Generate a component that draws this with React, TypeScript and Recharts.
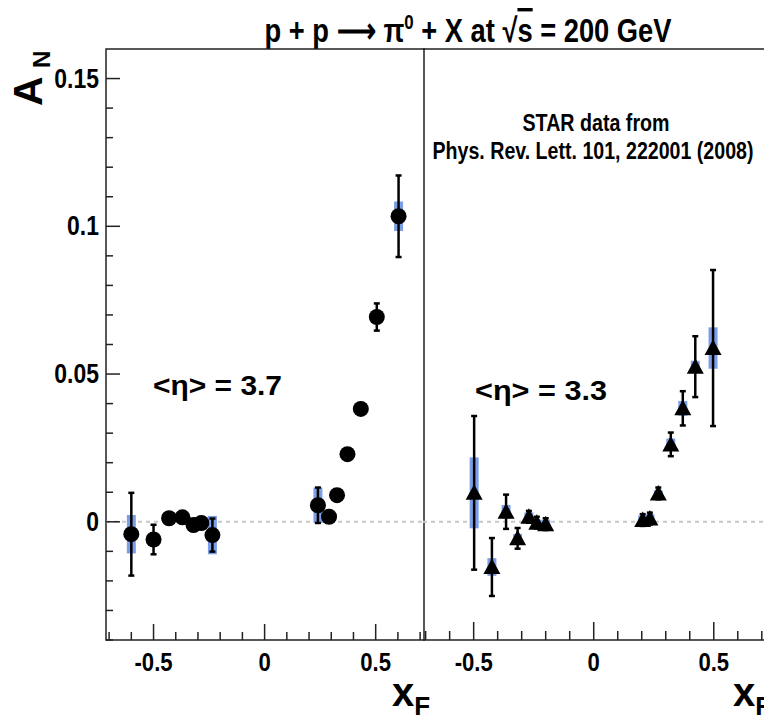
import React from "react";
import {
  ScatterChart,
  Scatter,
  XAxis,
  YAxis,
  ErrorBar,
  ReferenceLine,
  ReferenceArea,
} from "recharts";

// <eta> = 3.7 (circles)
const xF37 = [-0.6, -0.5, -0.43, -0.37, -0.32, -0.285, -0.235, 0.24, 0.29, 0.326, 0.373, 0.433, 0.505, 0.603];
const an37 = [-0.0042, -0.006, 0.0012, 0.0015, -0.0011, -0.0004, -0.0045, 0.0056, 0.0017, 0.009, 0.0229, 0.0382, 0.0693, 0.1034];
const stat37 = [0.014, 0.005, 0.002, 0.002, 0.002, 0.002, 0.0056, 0.006, 0.002, 0.002, 0.002, 0.002, 0.0046, 0.0138];
const sys37 = [0.0065, 0, 0, 0, 0, 0, 0.0065, 0.006, 0, 0, 0, 0, 0.002, 0.005];

// <eta> = 3.3 (triangles)
const xF33 = [-0.498, -0.424, -0.365, -0.317, -0.27, -0.237, -0.2, 0.204, 0.234, 0.269, 0.321, 0.371, 0.423, 0.497];
const an33 = [0.0098, -0.0153, 0.0034, -0.0056, 0.0017, -0.0003, -0.0008, 0.0006, 0.0011, 0.0096, 0.0262, 0.0384, 0.0525, 0.0588];
const stat33 = [0.026, 0.0098, 0.0058, 0.0035, 0.002, 0.002, 0.002, 0.002, 0.002, 0.002, 0.004, 0.0058, 0.0103, 0.0264];
const sys33 = [0.012, 0.003, 0.0023, 0.0015, 0.0015, 0.001, 0.0015, 0.0015, 0.0015, 0.001, 0.002, 0.0025, 0.002, 0.007];

const xTicks = [-0.7, -0.6, -0.5, -0.4, -0.3, -0.2, -0.1, 0, 0.1, 0.2, 0.3, 0.4, 0.5, 0.6, 0.7];
const xLabelTicks = [-0.5, 0, 0.5];
const yTicks = [-0.04, -0.03, -0.02, -0.01, 0, 0.01, 0.02, 0.03, 0.04, 0.05, 0.06, 0.07, 0.08, 0.09, 0.1, 0.11, 0.12, 0.13, 0.14, 0.15];
const yLabelTicks = [0, 0.05, 0.1, 0.15];

const toRows = (xs: number[], ys: number[], st: number[], sy: number[]) =>
  xs.map((x, i) => ({ x, y: ys[i], stat: st[i], sys: sy[i] }));

const rows37 = toRows(xF37, an37, stat37, sys37);
const rows33 = toRows(xF33, an33, stat33, sys33);

const SANS = "'Liberation Sans', Arial, sans-serif";
const BOX = "#7b9ee6";
const FRAME = "#222";
const Y_DOMAIN = [-0.04, 0.16];

const isIn = (list: number[], v: number) => list.some((t) => Math.abs(t - v) < 1e-6);
const fmt = (v: number) => (v === 0 ? "0" : String(v));

// bold helvetica squeezed sideways, like the ROOT output
function NText({ x, y, size, anchor = "start", sx = 0.85, children }: any) {
  return (
    <text
      transform={`translate(${x},${y}) scale(${sx},1)`}
      textAnchor={anchor}
      fontFamily={SANS}
      fontWeight="bold"
      fontSize={size}
      fill="#000"
    >
      {children}
    </text>
  );
}

function XTick(props: any) {
  const { x, y, payload, major, minor } = props;
  const big = isIn(xLabelTicks, payload.value);
  return (
    <g>
      <line x1={x} y1={y} x2={x} y2={y - (big ? major : minor)} stroke={FRAME} strokeWidth={1.5} />
      {big && (
        <NText x={x} y={y + 31} size={26} anchor="middle">
          {fmt(payload.value)}
        </NText>
      )}
    </g>
  );
}

function YTick(props: any) {
  const { x, y, payload, major, minor, showLabel } = props;
  const big = isIn(yLabelTicks, payload.value);
  return (
    <g>
      <line x1={x} y1={y} x2={x + (big ? major : minor)} y2={y} stroke={FRAME} strokeWidth={1.5} />
      {big && showLabel && (
        <NText x={x - 7} y={y + 9} size={27} anchor="end">
          {fmt(payload.value)}
        </NText>
      )}
    </g>
  );
}

const Dot = (p: any) => <circle cx={p.cx} cy={p.cy} r={8} fill="#000" />;
const Tri = (p: any) => (
  <polygon
    points={`${p.cx - 8.5},${p.cy + 7} ${p.cx + 8.5},${p.cy + 7} ${p.cx},${p.cy - 8.5}`}
    fill="#000"
  />
);

function Panel({ data, width, yWidth, xDomain, shape, xMajor, xMinor, yMajor, yMinor, showYLabels }: any) {
  return (
    <ScatterChart width={width} height={721} margin={{ top: 49, right: 0, bottom: 0, left: 0 }}>
      <XAxis
        type="number"
        dataKey="x"
        domain={xDomain}
        ticks={xTicks}
        interval={0}
        allowDataOverflow
        axisLine={false}
        tickLine={false}
        tickSize={0}
        tickMargin={0}
        height={81}
        tick={<XTick major={xMajor} minor={xMinor} />}
      />
      <YAxis
        type="number"
        dataKey="y"
        domain={Y_DOMAIN}
        ticks={yTicks}
        interval={0}
        allowDataOverflow
        axisLine={false}
        tickLine={false}
        tickSize={0}
        tickMargin={0}
        width={yWidth}
        tick={<YTick major={yMajor} minor={yMinor} showLabel={showYLabels} />}
      />
      <ReferenceLine y={0} stroke="#c8c8c8" strokeWidth={2} strokeDasharray="4 4" />
      <ReferenceArea
        x1={xDomain[0]}
        x2={xDomain[1]}
        y1={Y_DOMAIN[0]}
        y2={Y_DOMAIN[1]}
        fill="none"
        fillOpacity={0}
        stroke={FRAME}
        strokeWidth={1.5}
      />
      <Scatter data={data} shape={shape} isAnimationActive={false}>
        <ErrorBar dataKey="sys" direction="y" width={0} stroke={BOX} strokeWidth={9} isAnimationActive={false} />
        <ErrorBar dataKey="stat" direction="y" width={3} stroke="#000" strokeWidth={2.5} isAnimationActive={false} />
      </Scatter>
    </ScatterChart>
  );
}

export default function App() {
  return (
    <div style={{ position: "absolute", left: 0, top: 0, width: 764, height: 721, overflow: "hidden", background: "#fff" }}>
      <svg width={764} height={721} style={{ position: "absolute", left: 0, top: 0 }}>
        <text
          x={468}
          y={42}
          textAnchor="middle"
          fontFamily={SANS}
          fontWeight="bold"
          fontSize={34}
          fill="#000"
          textLength={407}
          lengthAdjust="spacingAndGlyphs"
        >
          p + p ⟶ π<tspan dy={-13} fontSize={21}>0</tspan>
          <tspan dy={13}> + X at √</tspan>
          <tspan style={{ textDecoration: "overline" }}>s</tspan> = 200 GeV
        </text>
        <text transform="translate(42,106) rotate(-90)" fontFamily={SANS} fontWeight="bold" fontSize={41} fill="#000">
          A
        </text>
        <text transform="translate(50,68) rotate(-90)" fontFamily={SANS} fontWeight="bold" fontSize={24} fill="#000">
          N
        </text>
      </svg>
      <div style={{ position: "absolute", left: 0, top: 0 }}>
        <Panel
          data={rows37}
          width={425}
          yWidth={106}
          xDomain={[-0.714, 0.722]}
          shape={Dot}
          xMajor={16}
          xMinor={8}
          yMajor={14}
          yMinor={7}
          showYLabels
        />
      </div>
      <div style={{ position: "absolute", left: 423, top: 0 }}>
        <Panel
          data={rows33}
          width={352}
          yWidth={0}
          xDomain={[-0.711, 0.755]}
          shape={Tri}
          xMajor={18}
          xMinor={9}
          yMajor={8}
          yMinor={4}
          showYLabels={false}
        />
      </div>
      <svg width={764} height={721} style={{ position: "absolute", left: 0, top: 0, pointerEvents: "none" }}>
        <text x={153} y={395} fontFamily={SANS} fontWeight="bold" fontSize={28} fill="#000" textLength={129} lengthAdjust="spacingAndGlyphs">
          {"<η> = 3.7"}
        </text>
        <text x={475} y={400} fontFamily={SANS} fontWeight="bold" fontSize={28} fill="#000" textLength={132} lengthAdjust="spacingAndGlyphs">
          {"<η> = 3.3"}
        </text>
        <text x={596} y={131} textAnchor="middle" fontFamily={SANS} fontWeight="bold" fontSize={23} fill="#000" textLength={147} lengthAdjust="spacingAndGlyphs">
          STAR data from
        </text>
        <text x={593} y={159} textAnchor="middle" fontFamily={SANS} fontWeight="bold" fontSize={23} fill="#000" textLength={321} lengthAdjust="spacingAndGlyphs">
          Phys. Rev. Lett. 101, 222001 (2008)
        </text>
        <text x={392} y={706} fontFamily={SANS} fontWeight="bold" fontSize={40} fill="#000">
          x<tspan dy={9} fontSize={26}>F</tspan>
        </text>
        <text x={733} y={706} fontFamily={SANS} fontWeight="bold" fontSize={40} fill="#000">
          x<tspan dy={9} fontSize={26}>F</tspan>
        </text>
      </svg>
    </div>
  );
}
